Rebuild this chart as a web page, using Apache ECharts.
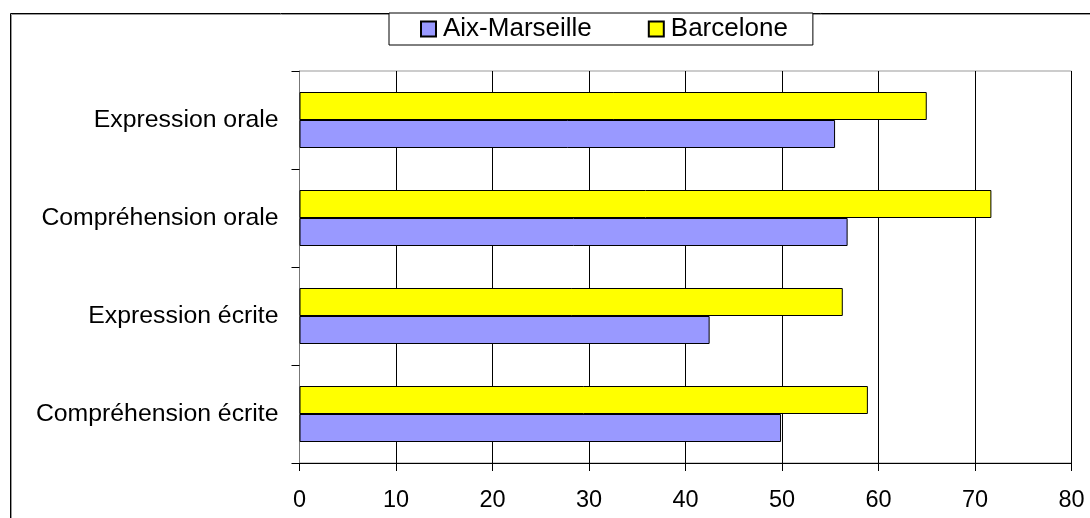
<!DOCTYPE html>
<html>
<head>
<meta charset="utf-8">
<script src="https://cdn.jsdelivr.net/npm/echarts@6/dist/echarts.min.js"></script>
<style>
  html, body { margin: 0; padding: 0; background: #fff; }
  #chart { width: 1090px; height: 518px; }
</style>
</head>
<body>
<div id="chart"></div>
<script>
// catégories (de bas en haut)
const categories = ["Compréhension écrite", "Expression écrite", "Compréhension orale", "Expression orale"];
const aixMarseille = [49.9, 42.5, 56.8, 55.5];
const barcelone = [58.9, 56.3, 71.7, 65.0];
const xTicks = [0, 10, 20, 30, 40, 50, 60, 70, 80];

const font = "'Liberation Sans', Arial, sans-serif";
let myChart = echarts.init(document.getElementById("chart"));
myChart.setOption({
  animation: false,
  textStyle: { fontFamily: font, color: "#000" },
  graphic: [
    // cadre extérieur (coupé à droite et en bas)
    { type: "rect", shape: { x: 11.5, y: 14.5, width: 1200, height: 600 }, style: { fill: null, stroke: "#999", lineWidth: 1 }, z: 0 },
    { type: "rect", shape: { x: 10.5, y: 13.5, width: 1200, height: 600 }, style: { fill: null, stroke: "#000", lineWidth: 1 }, z: 1 },
  ],
  legend: {
    left: 389,
    top: 13,
    padding: [3, 25, 3, 31],
    itemGap: 56,
    itemWidth: 15,
    itemHeight: 15,
    icon: "rect",
    borderColor: "#000",
    borderWidth: 1,
    backgroundColor: "#fff",
    textStyle: { fontSize: 26, fontFamily: font, color: "#000", padding: [0, 0, 0, 2] },
    data: ["Aix-Marseille", "Barcelone"],
  },
  grid: {
    left: 299.5,
    right: 18.5,
    top: 71,
    bottom: 55,
    show: true,
    borderColor: "#999",
    borderWidth: 1,
    containLabel: false,
  },
  xAxis: {
    type: "value",
    min: xTicks[0],
    max: xTicks[xTicks.length - 1],
    interval: 10,
    axisLine: { show: true, lineStyle: { color: "#000", width: 1 } },
    axisTick: { show: true, length: 8, lineStyle: { color: "#000" } },
    splitLine: { show: true, lineStyle: { color: "#000", width: 1 } },
    axisLabel: { fontSize: 23.5, color: "#000", margin: 26, fontFamily: font },
  },
  yAxis: {
    type: "category",
    data: categories,
    axisLine: { show: true, lineStyle: { color: "#777", width: 1 } },
    axisTick: { show: true, length: 8, lineStyle: { color: "#000" } },
    splitLine: { show: false },
    axisLabel: { fontSize: 24.8, color: "#000", margin: 21, fontFamily: font },
  },
  series: [
    // Barcelone en premier : barre du haut dans chaque groupe
    {
      type: "bar",
      name: "Barcelone",
      data: barcelone,
      barWidth: 28,
      barGap: "0%",
      itemStyle: { color: "#ffff00", borderColor: "#000", borderWidth: 1 },
    },
    {
      type: "bar",
      name: "Aix-Marseille",
      data: aixMarseille,
      barWidth: 28,
      barGap: "0%",
      itemStyle: { color: "#9999ff", borderColor: "#000", borderWidth: 1 },
    },
  ],
});
window.onresize = myChart.resize;
</script>
</body>
</html>
